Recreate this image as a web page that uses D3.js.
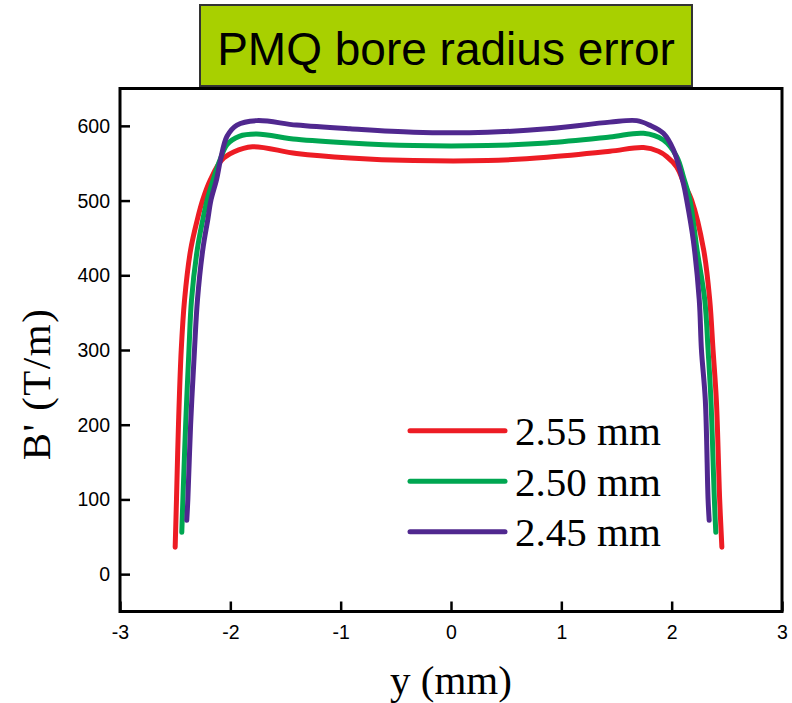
<!DOCTYPE html>
<html><head><meta charset="utf-8">
<script src="https://cdn.jsdelivr.net/npm/d3@7"></script>
<style>body{margin:0;background:#fff}svg{display:block}</style>
</head><body>
<svg id="c" width="792" height="703"></svg>
<script>
const titleText = "PMQ bore radius error";
const xLabel = "y (mm)";
const yLabel = "B' (T/m)";
const xTicks = [-3, -2, -1, 0, 1, 2, 3];
const yTicks = [0, 100, 200, 300, 400, 500, 600];
const seriesNames = ["2.55 mm", "2.50 mm", "2.45 mm"];
const seriesColors = ["#ED1C24", "#00A651", "#50288F"];

// 2.55 mm
const xRed = [-2.50,-2.488,-2.47,-2.445,-2.415,-2.36,-2.30,-2.25,-2.18,-2.08,-1.97,-1.80,-1.40,-0.915,-0.34,0.33,0.87,1.44,1.745,1.88,1.955,2.045,2.12,2.18,2.29,2.345,2.375,2.405,2.435,2.455];
const bRed = [36,100,200,300,367,434,474,501,528,554,565,572,563,557,553.5,553.5,558,566,571,566,559,545,520,501,434,367,300,233,100,36];
// 2.50 mm
const xGreen = [-2.44,-2.43,-2.405,-2.375,-2.352,-2.30,-2.25,-2.21,-2.155,-2.095,-2.03,-1.92,-1.76,-1.40,-0.915,-0.34,0.33,0.87,1.44,1.745,1.925,2.045,2.11,2.165,2.23,2.30,2.33,2.356,2.387,2.40];
const bGreen = [56,100,200,300,367,434,474,501,528,554,575,586,589,582,577,573.6,573.6,577,585,590,581,559,530,501,434,367,300,233,100,56];
// 2.45 mm
const xPurple = [-2.395,-2.385,-2.36,-2.325,-2.298,-2.25,-2.205,-2.175,-2.125,-2.09,-2.03,-1.94,-1.76,-1.40,-0.915,-0.34,0.33,0.87,1.44,1.683,1.80,1.925,2.016,2.106,2.136,2.196,2.25,2.27,2.305,2.33,2.34];
const bPurple = [72,100,200,300,367,434,474,501,528,554,586,601,607,601,596,591.5,591.5,596,605,607,601,590,568,523,501,447,367,300,233,100,72];

const seriesX = [xRed, xGreen, xPurple];
const seriesB = [bRed, bGreen, bPurple];

const svg = d3.select("#c");
const x = d3.scaleLinear().domain([-3, 3]).range([120, 782]);
const y = d3.scaleLinear().domain([-50, 650]).range([611.5, 88.5]);

// frame
svg.append("rect").attr("x", 120).attr("y", 88.5).attr("width", 662).attr("height", 523)
  .attr("fill", "none").attr("stroke", "#000").attr("stroke-width", 3);

// title box
const tg = svg.append("g");
tg.append("rect").attr("x", 200).attr("y", 5).attr("width", 492).attr("height", 81)
  .attr("fill", "#A8D000").attr("stroke", "#333").attr("stroke-width", 2);
tg.append("text").attr("x", 446).attr("y", 65).attr("text-anchor", "middle")
  .attr("font-family", "Liberation Sans, Arial, sans-serif").attr("font-size", 46)
  .attr("fill", "#000").text(titleText);

const fmt = d => String(d);

// axes
const xAxis = d3.axisBottom(x).tickValues(xTicks).tickSize(-10).tickPadding(0).tickFormat(fmt);
const gx = svg.append("g").attr("transform", "translate(0,611.5)").call(xAxis);
gx.select(".domain").remove();
gx.selectAll(".tick line").attr("stroke", "#000").attr("stroke-width", 2.5);
gx.selectAll(".tick text").attr("y", 27.5).attr("dy", 0)
  .attr("font-family", "Liberation Sans, Arial, sans-serif").attr("font-size", 19.5).attr("fill", "#000");

const yAxis = d3.axisLeft(y).tickValues(yTicks).tickSize(-10).tickPadding(0).tickFormat(fmt);
const gy = svg.append("g").attr("transform", "translate(120,0)").call(yAxis);
gy.select(".domain").remove();
gy.selectAll(".tick line").attr("stroke", "#000").attr("stroke-width", 2.5);
gy.selectAll(".tick text").attr("x", -10).attr("dy", "0.33em")
  .attr("font-family", "Liberation Sans, Arial, sans-serif").attr("font-size", 19.5).attr("fill", "#000");

// axis labels
svg.append("text").attr("x", 451).attr("y", 694).attr("text-anchor", "middle")
  .attr("font-family", "Liberation Serif, Times New Roman, serif").attr("font-size", 41)
  .attr("fill", "#000").text(xLabel);
svg.append("text").attr("transform", "translate(50,384) rotate(-90)").attr("text-anchor", "middle")
  .attr("font-family", "Liberation Serif, Times New Roman, serif").attr("font-size", 41)
  .attr("letter-spacing", 1.5)
  .attr("fill", "#000").text(yLabel);

// curves
const line = d3.line().x(d => x(d[0])).y(d => y(d[1])).curve(d3.curveCatmullRom.alpha(0.5));
seriesX.forEach((xs, i) => {
  const pts = xs.map((v, j) => [v, seriesB[i][j]]);
  svg.append("path").datum(pts).attr("d", line).attr("fill", "none")
    .attr("stroke", seriesColors[i]).attr("stroke-width", 5)
    .attr("stroke-linecap", "round").attr("stroke-linejoin", "round");
});

// legend
seriesNames.forEach((name, i) => {
  const ly = 430.7 + i * 50.5;
  svg.append("line").attr("x1", 410).attr("x2", 505).attr("y1", ly).attr("y2", ly)
    .attr("stroke", seriesColors[i]).attr("stroke-width", 5).attr("stroke-linecap", "round");
  svg.append("text").attr("x", 515).attr("y", ly + 14.5)
    .attr("font-family", "Liberation Serif, Times New Roman, serif").attr("font-size", 41)
    .attr("fill", "#000").text(name);
});
</script>
</body></html>
